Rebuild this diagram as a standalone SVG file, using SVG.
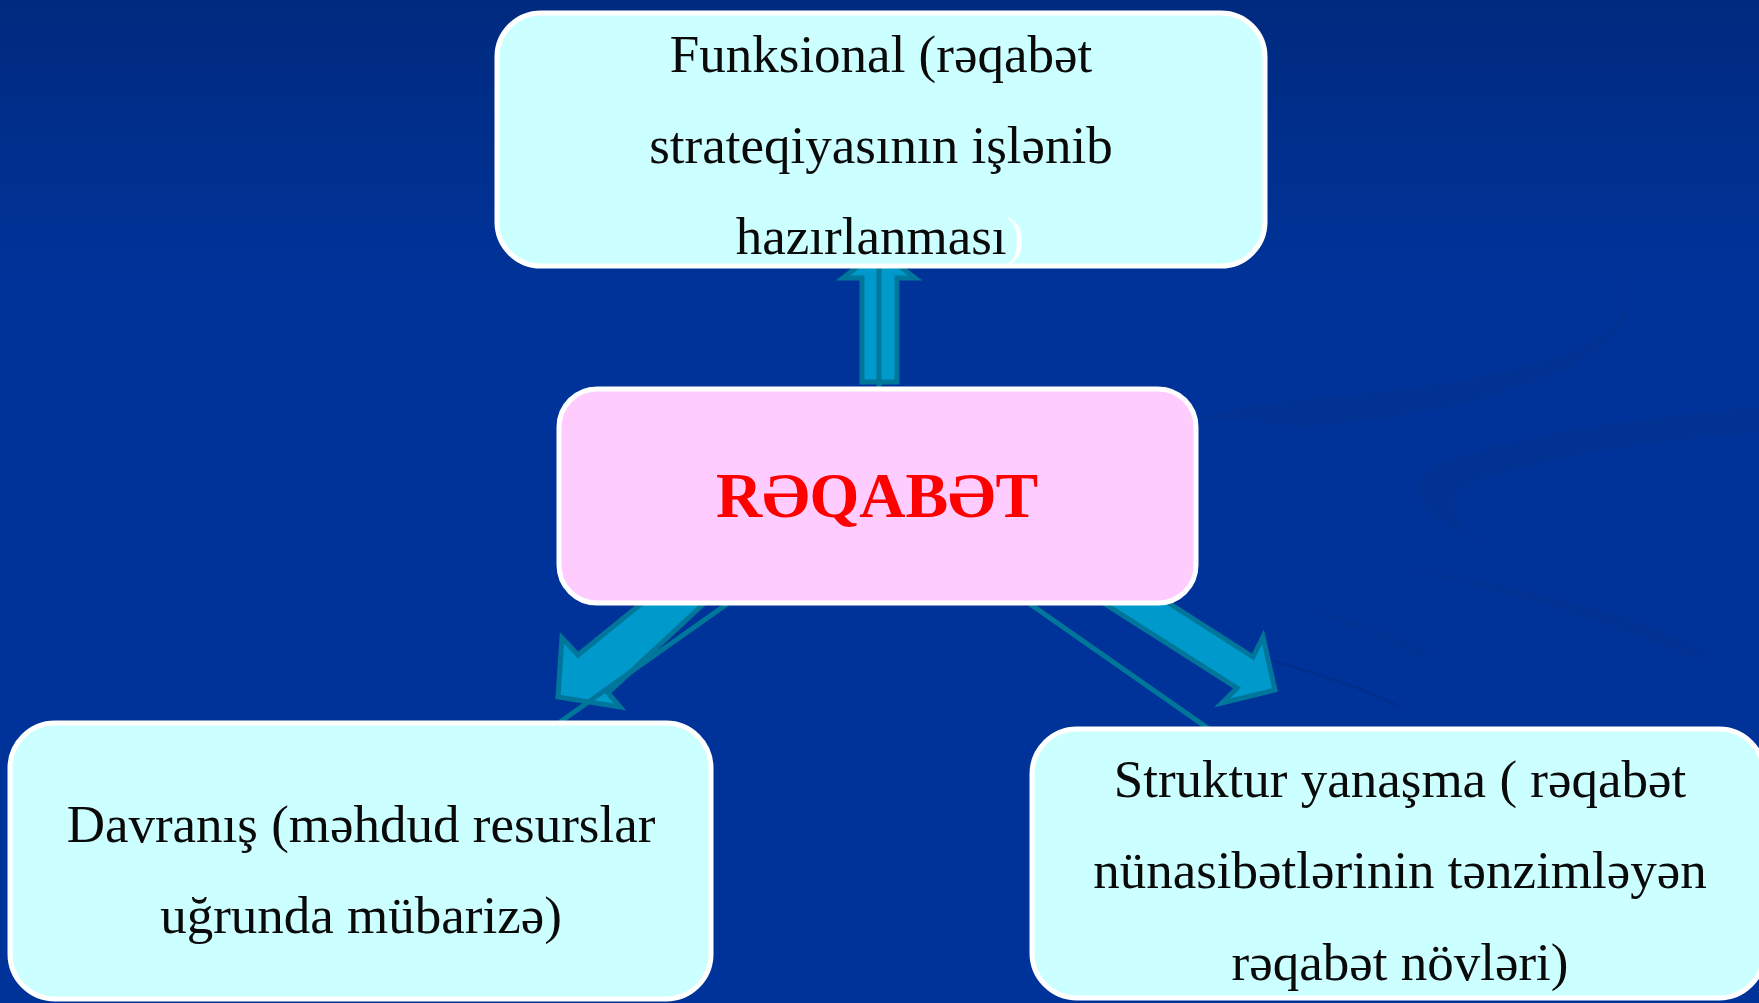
<svg xmlns="http://www.w3.org/2000/svg" width="1759" height="1003" viewBox="0 0 1759 1003">
<defs>
<linearGradient id="bg" x1="0" y1="0" x2="0" y2="1">
<stop offset="0" stop-color="#002A7F"/>
<stop offset="0.28" stop-color="#003399"/>
<stop offset="1" stop-color="#003399"/>
</linearGradient>
<style>
.box{stroke:#FFFFFF;stroke-width:5}
.cyan{fill:#CCFFFF}
.pink{fill:#FFCCFF}
.txt{font-family:"Liberation Serif","Times New Roman",serif;font-size:53px;fill:#0A0A0A;text-anchor:middle}
.title{font-family:"Liberation Serif","Times New Roman",serif;font-size:64px;font-weight:bold;fill:#FF0000;text-anchor:middle}
.arrow{fill:#0099CC;stroke:#00779A;stroke-width:5;stroke-linejoin:miter}
.line{stroke:#00779A;stroke-width:5;fill:none}
.sw{fill:#002F8E;opacity:0.5}
</style>
</defs>
<rect x="0" y="0" width="1759" height="1003" fill="url(#bg)"/>
<g id="background-swooshes">
<path class="sw" d="M1607,237 C1630,270 1632,300 1620,318 C1590,360 1480,385 1300,400 C1260,404 1230,410 1200,418 C1240,420 1275,423 1300,427 C1470,415 1600,370 1625,320 C1636,290 1625,260 1607,237 Z"/>
<path class="sw" d="M1759,407 C1620,420 1480,440 1430,470 C1405,490 1420,515 1483,543 C1440,515 1450,490 1475,480 C1540,460 1640,440 1759,433 Z"/>
<path class="sw" d="M1400,567 C1550,590 1650,620 1717,657 L1690,657 C1620,625 1520,595 1400,567 Z"/>
<path class="sw" d="M1300,607 C1360,620 1410,640 1433,657 L1420,657 C1390,640 1350,625 1300,607 Z"/>
<path d="M1271,660 C1320,675 1370,690 1400,707" stroke="#002C85" stroke-width="3" fill="none" opacity="0.6"/>
</g>
<g id="connectors">
<polygon class="arrow" points="879,250 915,278 897,278 897,382 862,382 862,278 843,278"/>
<line class="line" x1="879" y1="266" x2="879" y2="392"/>
<polygon class="arrow" points="652,595 578,655 562,638 558,697 620,707 608,693 713,595"/>
<line class="line" x1="727" y1="604" x2="560" y2="722"/>
<polygon class="arrow" points="1091,595 1156,595 1253,657 1263,637 1275,690 1222,703 1237,688"/>
<line class="line" x1="1030" y1="604" x2="1209" y2="729"/>
</g>
<g id="node-funksional">
<rect class="box cyan" x="497" y="13" width="768" height="253" rx="44" ry="44"/>
<text class="txt" x="881" y="72">Funksional (rəqabət</text>
<text class="txt" x="881" y="163">strateqiyasının işlənib</text>
<text class="txt" x="880" y="254">hazırlanması<tspan fill="#FFFFFF">)</tspan></text>
</g>
<g id="node-reqabet">
<rect class="box pink" x="559" y="389" width="637" height="214" rx="38" ry="38"/>
<text class="title" x="877" y="517">RƏQABƏT</text>
</g>
<g id="node-davranis">
<rect class="box cyan" x="10" y="723" width="701" height="276" rx="45" ry="45"/>
<text class="txt" x="361" y="842">Davranış (məhdud resurslar</text>
<text class="txt" x="361" y="933">uğrunda mübarizə)</text>
</g>
<g id="node-struktur">
<rect class="box cyan" x="1032" y="729" width="732" height="269" rx="45" ry="45"/>
<text class="txt" x="1400" y="797">Struktur yanaşma ( rəqabət</text>
<text class="txt" x="1400" y="888">nünasibətlərinin tənzimləyən</text>
<text class="txt" x="1400" y="980">rəqabət növləri)</text>
</g>
</svg>
